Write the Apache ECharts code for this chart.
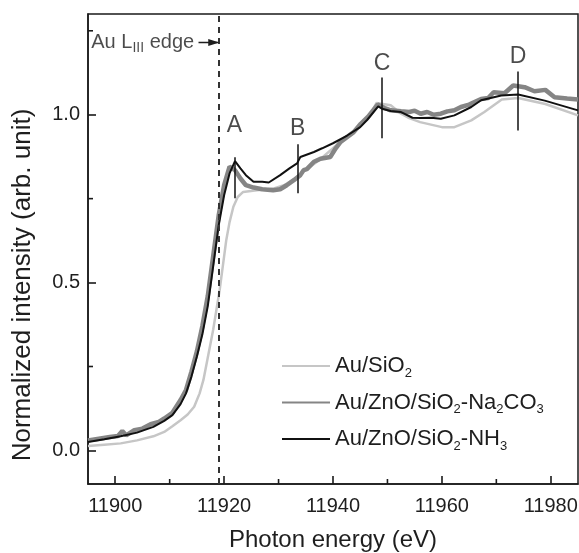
<!DOCTYPE html>
<html><head><meta charset="utf-8">
<script src="https://cdn.jsdelivr.net/npm/echarts@6/dist/echarts.min.js"></script>
<style>html,body{margin:0;padding:0;background:#fff}#c{width:579px;height:553px}</style>
</head><body><div id="c"></div>
<script>
// ---- data ----
const seriesNames = ['Au/SiO2', 'Au/ZnO/SiO2-Na2CO3', 'Au/ZnO/SiO2-NH3'];

const sio2Energy = [11895,11898,11901,11904,11907,11909,11910.5,11912,11913.3,11914.5,11915.5,11916.2,11916.8,11918,11919.2,11920.4,11921,11921.7,11922.5,11923.5,11926,11929,11931,11933,11935,11937.5,11940,11942.5,11945,11946.5,11948,11950.6,11952.5,11954,11956,11960,11962.3,11965.4,11967.8,11971,11974,11979,11985];
const sio2Values = [0.013,0.017,0.021,0.03,0.042,0.055,0.072,0.09,0.107,0.13,0.17,0.21,0.26,0.36,0.48,0.627,0.68,0.726,0.755,0.77,0.775,0.78,0.79,0.81,0.835,0.865,0.9,0.935,0.965,0.99,1.035,1.028,1.003,0.99,0.978,0.963,0.963,0.983,1.008,1.045,1.05,1.032,0.998];

const naEnergy = [11895,11897,11899,11900.5,11901.3,11902,11903.5,11905,11906.5,11908,11909,11910.5,11912,11913,11914,11915,11916,11917,11918,11919,11920,11921,11922,11923,11924,11925.4,11927,11929,11930.3,11931.5,11932.8,11934,11934.6,11935.2,11936.5,11937.7,11939.5,11940.5,11941.4,11943.8,11945.1,11946.5,11948.2,11949.5,11950.6,11952.5,11954,11955,11956.1,11957.3,11958.5,11959.8,11961,11962.3,11963.5,11965,11967.2,11968.5,11969.5,11971.5,11973.1,11975.2,11977,11979,11980.7,11983,11985];
const naValues = [0.03,0.035,0.04,0.043,0.058,0.045,0.06,0.065,0.078,0.085,0.095,0.112,0.15,0.18,0.235,0.295,0.37,0.46,0.58,0.70,0.79,0.845,0.835,0.81,0.79,0.783,0.778,0.775,0.778,0.79,0.805,0.82,0.835,0.838,0.86,0.869,0.874,0.9,0.919,0.948,0.973,0.995,1.03,1.02,1.013,1.01,1.008,1.012,1.003,1.008,1.0,1.003,1.01,1.013,1.023,1.03,1.047,1.05,1.067,1.064,1.087,1.082,1.07,1.074,1.052,1.048,1.045];

const nh3Energy = [11895,11898,11901,11904,11907,11909,11910.5,11912,11913,11914,11915,11916,11917,11918,11919,11920,11921,11922,11923,11924,11925.4,11927,11928.2,11930.3,11932,11933.4,11934,11936.5,11938,11940,11942.6,11945,11946.3,11948.3,11949,11950.6,11952.5,11954.6,11956,11958,11959.8,11962.3,11965.4,11967.2,11970.9,11974,11978.9,11985];
const nh3Values = [0.025,0.033,0.042,0.053,0.07,0.088,0.105,0.138,0.17,0.22,0.28,0.345,0.43,0.55,0.67,0.76,0.825,0.862,0.84,0.82,0.80,0.80,0.798,0.82,0.84,0.855,0.874,0.889,0.90,0.915,0.938,0.963,0.985,1.025,1.018,1.011,1.008,0.991,0.99,0.991,0.988,0.998,1.023,1.043,1.057,1.06,1.042,1.013];

// feature markers A-D
const markLabels = ['A', 'B', 'C', 'D'];
const markEnergy = [11921.9, 11933.5, 11949.0, 11974.0];
const markLow = [0.751, 0.766, 0.930, 0.953];
const markHigh = [0.873, 0.912, 1.111, 1.129];
const markLabelY = [0.968, 0.958, 1.151, 1.172];

// absorption edge
const edgeEnergy = 11919;
const edgeText = 'Au L{s|III} edge';
const edgeArrowFrom = 11915.3;
const edgeArrowY = 1.215;
const edgeTextEnergy = 11895.6;

// axes
const xMin = 11895, xMax = 11985;
const yMin = -0.1, yMax = 1.3;
const xMajor = [11900, 11920, 11940, 11960, 11980];
const xMinor = [11910, 11930, 11950, 11970];
const yMajor = [0, 0.5, 1.0];
const yMinor = [0.25, 0.75, 1.25];

// ---- chart ----
const FONT = '"Liberation Sans", Arial, Helvetica, sans-serif';
const INK = '#1e1e1e';
const AX = '#1a1a1a';
const MAJOR_LEN = 8, MINOR_LEN = 5;
const zip = (xs, ys) => xs.map((x, i) => [x, ys[i]]);

const chart = echarts.init(document.getElementById('c'), null, {renderer: 'canvas'});

const lineCommon = {type: 'line', symbol: 'none', smooth: false, xAxisIndex: 0, yAxisIndex: 0, silent: true};

// minor tick marks (inward), positioned through the axes' own scales
const minorTickData = xMinor.map(v => [v, yMin, 0, MINOR_LEN])
  .concat(yMinor.map(v => [xMin, v, 1, MINOR_LEN]));

const option = {
  animation: false,
  backgroundColor: '#fff',
  textStyle: {fontFamily: FONT, color: INK},
  grid: {left: 88, right: 1, top: 14, bottom: 69, show: true, borderColor: AX, borderWidth: 1.5,
         outerBoundsMode: 'none'},
  legend: {
    orient: 'vertical', left: 281, top: 355, padding: 0, itemWidth: 48, itemHeight: 14, itemGap: 12,
    data: seriesNames, selectedMode: false,
    itemStyle: {opacity: 0},
    textStyle: {fontFamily: FONT, fontSize: 22, color: INK,
      rich: {s: {fontFamily: FONT, fontSize: 13, color: INK, padding: [14, 0, 0, 0]}}},
    formatter: n => n.replace(/(\d)/g, '{s|$1}')
  },
  xAxis: {
    type: 'value', min: xMin, max: xMax, position: 'bottom',
    name: 'Photon energy (eV)', nameLocation: 'middle', nameGap: 44,
    nameTextStyle: {fontFamily: FONT, fontSize: 24, color: INK},
    axisLine: {show: true, onZero: false, lineStyle: {color: AX, width: 1.5}},
    axisTick: {show: true, inside: true, length: MAJOR_LEN, customValues: xMajor, lineStyle: {color: AX, width: 1.6}},
    axisLabel: {show: true, customValues: xMajor, formatter: v => String(v), fontFamily: FONT, fontSize: 20, color: INK, margin: 12},
    splitLine: {show: false}
  },
  yAxis: {
    type: 'value', min: yMin, max: yMax, position: 'left',
    name: 'Normalized intensity (arb. unit)', nameLocation: 'middle', nameGap: 52,
    nameTextStyle: {fontFamily: FONT, fontSize: 26, color: INK, padding: [0, 72, 0, 0]},
    axisLine: {show: true, onZero: false, lineStyle: {color: AX, width: 1.5}},
    axisTick: {show: true, inside: true, length: MAJOR_LEN, customValues: yMajor, lineStyle: {color: AX, width: 1.6}},
    axisLabel: {show: true, customValues: yMajor, formatter: v => v.toFixed(1), fontFamily: FONT, fontSize: 20, color: INK, margin: 8},
    splitLine: {show: false}
  },
  series: [
    Object.assign({}, lineCommon, {name: seriesNames[0], data: zip(sio2Energy, sio2Values), z: 2,
      lineStyle: {color: '#c6c6c6', width: 2.5}, itemStyle: {color: '#c6c6c6'}}),
    Object.assign({}, lineCommon, {name: seriesNames[1], data: zip(naEnergy, naValues), z: 3,
      lineStyle: {color: '#858585', width: 4.5}, itemStyle: {color: '#858585'}}),
    Object.assign({}, lineCommon, {name: seriesNames[2], data: zip(nh3Energy, nh3Values), z: 4,
      lineStyle: {color: '#111', width: 2}, itemStyle: {color: '#111'},
      markLine: {
        silent: true, symbol: ['none', 'none'], animation: false,
        label: {show: false},
        data: [{xAxis: edgeEnergy, lineStyle: {color: '#333', width: 2, type: [6, 5]}}]
          .concat(markEnergy.map((e, i) => [
            {coord: [e, markLow[i]], lineStyle: {color: '#111', width: 1.5, type: 'solid'}},
            {coord: [e, markHigh[i]]}
          ]))
      }}),
    {
      type: 'line', name: 'edgeArrow', silent: true, symbol: 'none', z: 5,
      data: [[edgeArrowFrom, edgeArrowY], [edgeEnergy - 0.15, edgeArrowY]],
      lineStyle: {color: INK, width: 1.5},
      markPoint: {
        silent: true, symbol: 'triangle', symbolSize: [7, 11], symbolRotate: -90,
        itemStyle: {color: INK}, label: {show: false},
        data: [{coord: [edgeEnergy - 0.9, edgeArrowY]}]
      }
    },
    {
      type: 'scatter', name: 'edgeText', silent: true, symbolSize: 0, z: 6,
      data: [[edgeTextEnergy, edgeArrowY]],
      label: {show: true, position: 'right', distance: 0, formatter: edgeText,
        fontFamily: FONT, fontSize: 20, color: INK,
        rich: {s: {fontFamily: FONT, fontSize: 14, color: INK, padding: [12, 0, 0, 0]}}}
    },
    {
      type: 'scatter', name: 'markText', silent: true, symbolSize: 0, z: 6,
      data: markLabels.map((t, i) => [markEnergy[i], markLabelY[i], t]),
      label: {show: true, position: 'inside', formatter: p => p.data[2],
        fontFamily: FONT, fontSize: 23, color: INK}
    },
    {
      type: 'custom', name: 'minorTicks', silent: true, z: 10, clip: false,
      data: minorTickData,
      encode: {x: 0, y: 1},
      renderItem: (params, api) => {
        const p = api.coord([api.value(0), api.value(1)]);
        const vertical = api.value(2) === 0;
        const len = api.value(3);
        return {
          type: 'line',
          shape: vertical ? {x1: p[0], y1: p[1], x2: p[0], y2: p[1] - len}
                          : {x1: p[0], y1: p[1], x2: p[0] + len, y2: p[1]},
          style: {stroke: AX, lineWidth: 1.6}
        };
      }
    }
  ]
};
chart.setOption(option);
</script></body></html>
